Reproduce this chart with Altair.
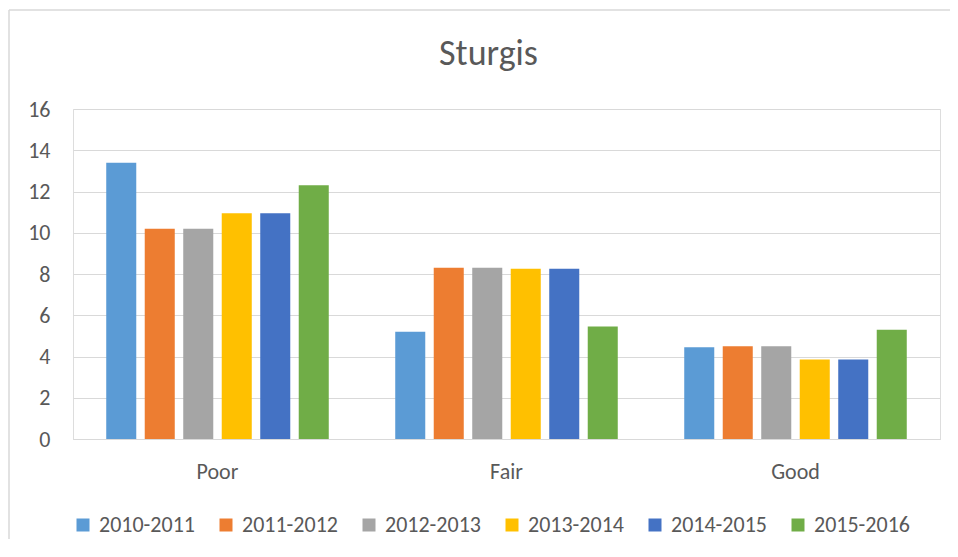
import altair as alt
import pandas as pd

categories = ["Poor", "Fair", "Good"]
seasons = ["2010-2011", "2011-2012", "2012-2013", "2013-2014", "2014-2015", "2015-2016"]
poor = [13.4, 10.2, 10.2, 10.95, 10.95, 12.3]
fair = [5.2, 8.3, 8.3, 8.25, 8.25, 5.45]
good = [4.45, 4.5, 4.5, 3.85, 3.85, 5.3]
colors = ["#5B9BD5", "#ED7D31", "#A5A5A5", "#FFC000", "#4472C4", "#70AD47"]
y_ticks = [0, 2, 4, 6, 8, 10, 12, 14, 16]

rows = []
for cat, vals in zip(categories, [poor, fair, good]):
    for s, v in zip(seasons, vals):
        rows.append({"category": cat, "season": s, "value": v})
df = pd.DataFrame(rows)

FONT = "Calibri, Carlito, Lato, sans-serif"
TXT = "#595959"
GRID = "#D9D9D9"
FS = 22

bars = alt.Chart(df).mark_bar().encode(
    x=alt.X("category:N", sort=categories, title=None,
            scale=alt.Scale(paddingInner=0.23, paddingOuter=0.115),
            axis=alt.Axis(labelAngle=0, ticks=False, domainColor=GRID, domainWidth=1,
                          labelFontSize=FS, labelColor=TXT, labelFont=FONT,
                          labelBaseline="alphabetic", labelPadding=39)),
    xOffset=alt.XOffset("season:N", sort=seasons,
                        scale=alt.Scale(paddingInner=0.22, paddingOuter=0)),
    y=alt.Y("value:Q", title=None,
            scale=alt.Scale(domain=[0, 16], nice=False),
            axis=alt.Axis(values=y_ticks, ticks=False, domain=False, gridColor=GRID,
                          gridWidth=1, labelFontSize=FS, labelColor=TXT, labelFont=FONT,
                          labelPadding=23)),
    color=alt.Color("season:N", sort=seasons,
                    scale=alt.Scale(domain=seasons, range=colors),
                    legend=alt.Legend(title=None, orient="none", direction="horizontal",
                                      legendX=-1, legendY=405, symbolType="square",
                                      symbolSize=169, symbolStrokeWidth=0,
                                      labelFontSize=FS, labelColor=TXT, labelFont=FONT,
                                      labelOffset=5, columnPadding=20, padding=0)),
)

border = alt.Chart(alt.Data(values=[{"a": 1}])).mark_rule(color=GRID, strokeWidth=1.5).encode(
    x=alt.value(-64), x2=alt.value(900), y=alt.value(-99), y2=alt.value(-99)
)
border_left = alt.Chart(alt.Data(values=[{"a": 1}])).mark_rule(color=GRID, strokeWidth=1.5).encode(
    x=alt.value(-64), x2=alt.value(-64), y=alt.value(-99), y2=alt.value(440)
)

chart = alt.layer(bars, border, border_left).properties(
    width=867,
    height=330,
    padding={"left": 65, "top": 101, "right": 10, "bottom": 100},
    autosize=alt.AutoSizeParams(type="none"),
    title=alt.TitleParams("Sturgis", fontSize=36, font=FONT, color=TXT, fontWeight="normal",
                          anchor="middle", dx=-18, baseline="alphabetic", offset=-92),
).configure_view(stroke=None).configure(background="white")

chart.save("out.html", embed_options={"renderer": "svg", "actions": False})
